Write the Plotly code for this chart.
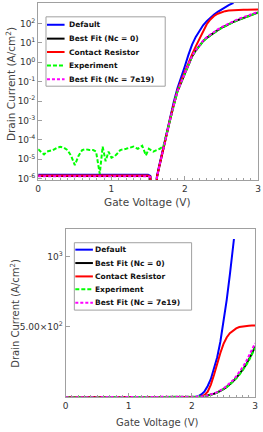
import plotly.graph_objects as go

# ---------------- data ----------------
names = ["Default", "Best Fit (Nc = 0)", "Contact Resistor", "Experiment", "Best Fit (Nc = 7e19)"]
colors = ["#0000FF", "#000000", "#FF0000", "#00FF00", "#FF00FF"]
dashes = ["solid", "solid", "solid", "4px,2px", "3px,2px"]

v_default = [0.0, 0.25, 0.5, 0.75, 1.0, 1.25, 1.5, 1.53, 1.55, 1.6, 1.62, 1.65, 1.7, 1.75, 1.8,
             1.85, 1.9, 1.95, 2.0, 2.05, 2.1, 2.15, 2.2, 2.25, 2.3, 2.35, 2.4, 2.45, 2.5, 2.55,
             2.6, 2.65, 2.665]
i_default = [1.6e-6, 1.6e-6, 1.62e-6, 1.62e-6, 1.63e-6, 1.63e-6, 1.6e-6, 1.4e-6, 1e-8, 1e-8,
             1.3e-6, 4.5e-6, 3.3e-5, 2.3e-4, 1.5e-3, 9e-3, 4.5e-2, 0.15, 0.6, 2.4, 8.0, 20, 42,
             80, 130, 200, 285, 395, 530, 690, 870, 1070, 1125]

v_model = [0.0, 0.25, 0.5, 0.75, 1.0, 1.25, 1.5, 1.53, 1.55, 1.6, 1.62, 1.65, 1.7, 1.75, 1.8,
           1.85, 1.9, 1.95, 2.0, 2.05, 2.1, 2.15, 2.2, 2.25, 2.3, 2.35, 2.4, 2.45, 2.5, 2.55,
           2.6, 2.65, 2.7, 2.75, 2.8, 2.85, 2.9, 2.95, 3.0]
i_bestfit0 = [1.4e-6, 1.4e-6, 1.42e-6, 1.42e-6, 1.43e-6, 1.43e-6, 1.4e-6, 1.25e-6, 1e-8, 1e-8,
              1.15e-6, 3.8e-6, 2.8e-5, 1.9e-4, 1.1e-3, 6.2e-3, 3.1e-2, 0.09, 0.25, 0.7, 2.0,
              4.0, 7.5, 12, 18, 25, 34, 45, 58, 74, 92, 113, 137, 164, 194, 227, 265, 310, 360]
i_contact = [1.45e-6, 1.45e-6, 1.47e-6, 1.47e-6, 1.48e-6, 1.48e-6, 1.45e-6, 1.3e-6, 1e-8, 1e-8,
             1.2e-6, 4e-6, 3e-5, 2e-4, 1.2e-3, 6.8e-3, 3.5e-2, 0.11, 0.33, 0.95, 2.5, 6.5, 16,
             40, 90, 160, 240, 315, 380, 425, 455, 475, 490, 499, 504, 507, 509, 510, 511]
i_bestfit7e19 = [1.35e-6, 1.35e-6, 1.37e-6, 1.37e-6, 1.38e-6, 1.38e-6, 1.35e-6, 1.2e-6, 1e-8,
                 1e-8, 1.15e-6, 3.8e-6, 2.8e-5, 1.9e-4, 1.1e-3, 6.2e-3, 3.1e-2, 0.09, 0.26,
                 0.72, 2.1, 4.2, 8.0, 13, 19.5, 27, 37, 49, 63, 80, 100, 122, 148, 178, 212,
                 248, 290, 335, 385]

v_exp = [0.0, 0.04, 0.08, 0.12, 0.16, 0.2, 0.25, 0.3, 0.35, 0.4, 0.45, 0.5, 0.55, 0.6, 0.65,
         0.7, 0.75, 0.79, 0.84, 0.88, 0.92, 0.96, 1.0, 1.04, 1.08, 1.12, 1.2, 1.3, 1.36, 1.42,
         1.47, 1.51, 1.57, 1.61, 1.66, 1.71, 1.75, 1.8, 1.85, 1.9, 1.95, 2.0, 2.05, 2.1, 2.15,
         2.2, 2.25, 2.3, 2.35, 2.4, 2.45, 2.5, 2.55, 2.6, 2.65, 2.7, 2.75, 2.8, 2.85, 2.9,
         2.95, 3.0]
i_exp = [3.3e-5, 2.5e-5, 1.8e-5, 2.5e-5, 2.8e-5, 3.0e-5, 3.8e-5, 4.4e-5, 4.0e-5, 3.0e-5,
         1.5e-5, 5e-6, 1.5e-5, 3.0e-5, 3.3e-5, 3.0e-5, 3.0e-5, 2.5e-5, 1.8e-6, 4.5e-5, 8e-6,
         2.5e-5, 1.2e-5, 1.4e-5, 2.0e-5, 3.0e-5, 3.5e-5, 4.5e-5, 3.5e-5, 5e-5, 1.6e-5,
         3.5e-5, 2.5e-5, 3.0e-5, 3.5e-5, 5e-5, 2e-4, 1.15e-3, 6.2e-3, 3.1e-2, 0.088, 0.24,
         0.68, 1.95, 3.9, 7.3, 11.7, 17.5, 24.5, 33, 44, 57, 72, 90, 110, 134, 160, 190, 222,
         259, 303, 352]

log_tickvals = [1e-6, 1e-5, 1e-4, 1e-3, 1e-2, 1e-1, 1e0, 1e1, 1e2, 1e3]
log_ticktext = ["10<sup>-6</sup>", "10<sup>-5</sup>", "10<sup>-4</sup>", "10<sup>-3</sup>",
                "10<sup>-2</sup>", "10<sup>-1</sup>", "10<sup>0</sup>", "10<sup>1</sup>",
                "10<sup>2</sup>", "10<sup>3</sup>"]
lin_tickvals = [500, 1000]
lin_ticktext = ["5.00×10<sup>2</sup>", "10<sup>3</sup>"]
x_tickvals = [0, 1, 2, 3]

# ---------------- figure ----------------
W, H = 263, 432
FONT = "DejaVu Sans"


def px(x):
    return x / W


def py(y):
    return 1 - y / H


series = [
    (v_default, i_default),
    (v_model, i_bestfit0),
    (v_model, i_contact),
    (v_exp, i_exp),
    (v_model, i_bestfit7e19),
]

fig = go.Figure()
for xa, ya in [("x", "y"), ("x2", "y2")]:
    for k, (vv, ii) in enumerate(series):
        fig.add_trace(go.Scatter(
            x=vv, y=ii, mode="lines", name=names[k], showlegend=False,
            line=dict(color=colors[k], width=2, dash=dashes[k]),
            xaxis=xa, yaxis=ya, hoverinfo="skip"))

axis_common = dict(showline=True, mirror=True, linecolor="#A0A0A0", linewidth=1,
                   showgrid=False, zeroline=False, ticks="inside", ticklen=4,
                   tickcolor="#A0A0A0", tickfont=dict(family=FONT, size=9, color="#333333"))

fig.update_layout(
    width=W, height=H, autosize=False,
    margin=dict(l=0, r=0, t=0, b=0),
    paper_bgcolor="white", plot_bgcolor="white",
    font=dict(family=FONT, color="#333333"),
    xaxis=dict(domain=[px(36), px(261)], anchor="y", range=[0, 3], tickvals=x_tickvals,
               minor=dict(dtick=0.1, ticks="inside", ticklen=2, tickcolor="#A0A0A0"),
               **axis_common),
    yaxis=dict(domain=[py(182), py(3)], anchor="x", type="log", range=[-6.08, 3.05],
               tickvals=log_tickvals, ticktext=log_ticktext, **axis_common),
    xaxis2=dict(domain=[px(64), px(258)], anchor="y2", range=[0, 3], tickvals=x_tickvals,
                minor=dict(dtick=0.1, ticks="inside", ticklen=2, tickcolor="#A0A0A0"),
                **axis_common),
    yaxis2=dict(domain=[py(401), py(231)], anchor="x2", range=[0, 1197],
                tickvals=lin_tickvals, ticktext=lin_ticktext, **axis_common),
)

title_font_top = dict(family=FONT, size=10.5, color="#444444")
title_font_bot = dict(family=FONT, size=10, color="#444444")
annotations = [
    dict(text="Gate Voltage (V)", x=px(148), y=py(204), font=title_font_top),
    dict(text="Drain Current (A/cm<sup>2</sup>)", x=px(7), y=py(85), textangle=-90,
         font=title_font_top),
    dict(text="Gate Voltage (V)", x=px(158), y=py(426), font=title_font_bot),
    dict(text="Drain Current (A/cm<sup>2</sup>)", x=px(12), y=py(316), textangle=-90,
         font=title_font_bot),
]
for a in annotations:
    a.update(xref="paper", yref="paper", xanchor="center", yanchor="middle", showarrow=False)
shapes = []


def add_legend(x0, y0, x1, y1, lx0, lx1, tx, ys):
    shapes.append(dict(type="rect", xref="paper", yref="paper", x0=px(x0), x1=px(x1),
                       y0=py(y1), y1=py(y0), line=dict(color="#A0A0A0", width=1),
                       fillcolor="white", layer="above"))
    for k, yy in enumerate(ys):
        shapes.append(dict(type="line", xref="paper", yref="paper", x0=px(lx0), x1=px(lx1),
                           y0=py(yy), y1=py(yy), layer="above",
                           line=dict(color=colors[k], width=2, dash=dashes[k])))
        annotations.append(dict(text="<b>" + names[k] + "</b>", x=px(tx), y=py(yy),
                                xref="paper", yref="paper", xanchor="left", yanchor="middle",
                                showarrow=False,
                                font=dict(family=FONT, size=7.5, color="#111111")))


add_legend(44, 17, 166, 87, 45, 63, 65, [25, 39, 52.5, 66, 80])
add_legend(73, 245, 193, 313, 74, 92, 92.5, [252, 265.5, 279, 292, 305.5])

fig.update_layout(annotations=annotations, shapes=shapes)
fig.write_html("out.html", config={"displayModeBar": False, "staticPlot": True},
               post_script="document.body.style.margin='0';document.body.style.overflow='hidden';")
